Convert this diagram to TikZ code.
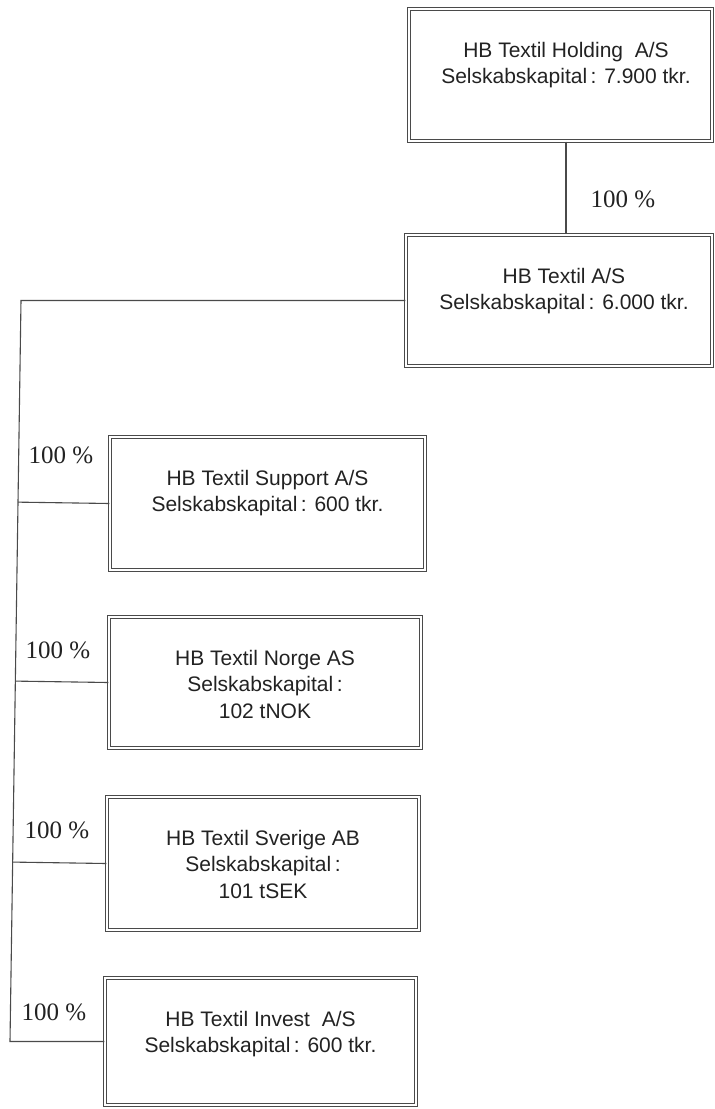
\documentclass[tikz,border=0pt]{standalone}
\usepackage{fontspec}
\setmainfont{Liberation Sans}
\newfontfamily\lblfont{Liberation Serif}
\usetikzlibrary{calc}
\definecolor{ink}{HTML}{222222}
\definecolor{edge}{HTML}{4A4A4A}
\tikzset{
  box/.style={draw=edge, double=white, line width=1.1pt, double distance=1.8pt, inner sep=0pt},
  boxtext/.style={anchor=north, align=center, inner sep=0pt, text=ink, font=\fontsize{21}{26.5}\selectfont},
  pct/.style={inner sep=0pt, text=ink, font=\lblfont\fontsize{25}{28}\selectfont},
  conn/.style={draw=edge, line width=1.1pt}
}
\begin{document}
\begin{tikzpicture}[x=1pt,y=-1pt]
\useasboundingbox (0,0) rectangle (715,1109);
% boxes (outer extents measured, minus half the double border)
\node[box, minimum width=303pt, minimum height=132pt] (hold) at (560.5,75) {};
\node[box, minimum width=306pt, minimum height=131pt] (tas) at (559,300.5) {};
\node[box, minimum width=315pt, minimum height=133pt] (sup) at (267.5,503.5) {};
\node[box, minimum width=312pt, minimum height=131pt] (nor) at (265,682.5) {};
\node[box, minimum width=312pt, minimum height=133pt] (sve) at (263,863.5) {};
\node[box, minimum width=311pt, minimum height=127pt] (inv) at (260.5,1041.5) {};
% texts
\node[boxtext] (holdt) at (566,42) {HB Textil Holding\ \ A/S\\Selskabskapital\,: 7.900 tkr.};
\node[boxtext] (tast) at (564,268) {HB Textil A/S\\Selskabskapital\,: 6.000 tkr.};
\node[boxtext] (supt) at (267.5,470) {HB Textil Support A/S\\Selskabskapital\,: 600 tkr.};
\node[boxtext] (nort) at (265,650) {HB Textil Norge AS\\Selskabskapital\,:\\102 tNOK};
\node[boxtext] (svet) at (263,830) {HB Textil Sverige AB\\Selskabskapital\,:\\101 tSEK};
\node[boxtext] (invt) at (260.5,1011) {HB Textil Invest\ \ A/S\\Selskabskapital\,: 600 tkr.};
% trunk coordinates
\coordinate (tt) at (21,300.5);
\coordinate (tb) at (10,1041.5);
% connectors
\draw[conn] ([xshift=5.5pt]hold.south) -- ([xshift=5.5pt]hold.south |- tas.north);
\draw[conn] (tas.west) -- (tt) -- (tb) -- (inv.west);
\draw[conn] (sup.west) -- ($(tt)!(sup.west)!(tb)$);
\draw[conn] (nor.west) -- ($(tt)!(nor.west)!(tb)$);
\draw[conn] (sve.west) -- ($(tt)!(sve.west)!(tb)$);
% percentage labels
\node[pct] (p1) at (623,199) {100 \%};
\node[pct] (p2) at (61,455) {100 \%};
\node[pct] (p3) at (58,650) {100 \%};
\node[pct] (p4) at (57,830) {100 \%};
\node[pct] (p5) at (54,1012) {100 \%};
\end{tikzpicture}
\end{document}
